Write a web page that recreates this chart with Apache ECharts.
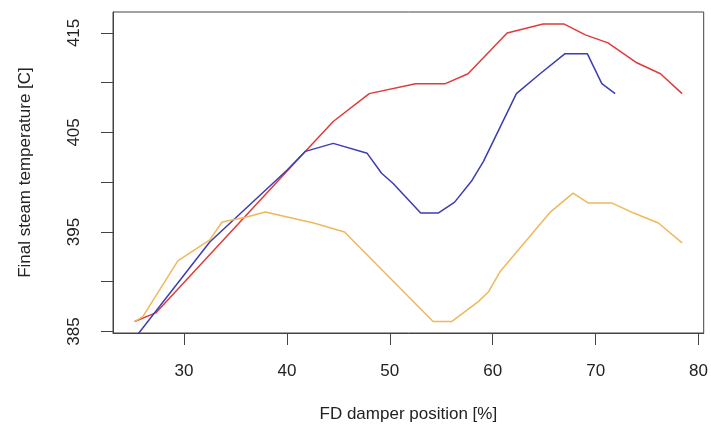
<!DOCTYPE html>
<html>
<head>
<meta charset="utf-8">
<script src="https://cdn.jsdelivr.net/npm/echarts@6/dist/echarts.min.js"></script>
<style>
    html, body { margin: 0; padding: 0; background: #fff; }
    #chart { width: 711px; height: 438px; }
</style>
</head>
<body>
<div id="chart"></div>
<script>
// ===== 数据 (从图上读的) =====
const redX = [25.2, 27.3, 41.8, 44.5, 48.0, 52.5, 55.4, 57.6, 61.4, 64.9, 66.9, 69.0, 71.2, 74.0, 76.3, 78.4];
const redY = [386.0, 386.9, 403.1, 406.1, 408.9, 409.9, 409.9, 410.9, 415.0, 415.9, 415.9, 414.8, 414.0, 412.0, 410.9, 408.9];

const blueX = [25.5, 32.5, 40.0, 41.8, 44.5, 47.8, 49.2, 50.3, 53.0, 54.7, 56.3, 58.0, 59.1, 62.3, 64.6, 67.0, 69.2, 70.6, 71.9];
const blueY = [384.7, 394.0, 401.2, 403.1, 403.9, 402.9, 400.9, 399.9, 396.9, 396.9, 398.0, 400.2, 402.1, 408.9, 410.9, 412.9, 412.9, 409.9, 408.9];

const orangeX = [25.2, 26.0, 29.4, 32.5, 33.7, 36.1, 37.9, 42.6, 45.6, 54.2, 56.0, 58.6, 59.6, 60.7, 65.6, 67.8, 69.3, 71.6, 73.7, 76.1, 78.4];
const orangeY = [386.0, 386.5, 392.1, 394.2, 396.0, 396.5, 397.0, 395.9, 395.0, 386.0, 386.0, 388.0, 389.0, 391.0, 397.0, 398.9, 397.9, 397.9, 396.9, 395.9, 393.9];

const xTicks = [30, 40, 50, 60, 70, 80];
const yTicks = [385, 390, 395, 400, 405, 410, 415];
const yLabels = [385, 395, 405, 415];

const zip = (xs, ys) => xs.map((x, i) => [x, ys[i]]);

const FONT = "Liberation Sans";
const chart = echarts.init(document.getElementById("chart"));

function lineSeries(name, data, color) {
    return {
        name,
        type: "line",
        data,
        symbol: "none",
        lineStyle: { color, width: 1.5 },
        silent: true,
        animation: false
    };
}

chart.setOption({
    animation: false,
    grid: {
        left: 113, right: 7, top: 12, bottom: 105,
        show: true, borderColor: "#444", borderWidth: 1, backgroundColor: "transparent"
    },
    xAxis: {
        type: "value",
        min: 23.1, max: 80.5,
        name: "FD damper position [%]",
        nameLocation: "middle",
        nameGap: 73,
        nameTextStyle: { fontFamily: FONT, fontSize: 17, color: "#222" },
        axisLine: { show: true, onZero: false, lineStyle: { color: "#444" } },
        axisTick: { show: true, length: 12, customValues: xTicks, lineStyle: { color: "#444" } },
        axisLabel: { customValues: xTicks, margin: 30, fontFamily: FONT, fontSize: 17, color: "#222" },
        splitLine: { show: false }
    },
    yAxis: {
        type: "value",
        min: 384.85, max: 417.1,
        name: "Final steam temperature [C]",
        nameLocation: "middle",
        nameGap: 79,
        nameRotate: 90,
        nameTextStyle: { fontFamily: FONT, fontSize: 17, color: "#222" },
        axisLine: { show: true, onZero: false, lineStyle: { color: "#444" } },
        axisTick: { show: true, length: 12, customValues: yTicks, lineStyle: { color: "#444" } },
        axisLabel: { customValues: yLabels, rotate: 90, margin: 30, fontFamily: FONT, fontSize: 17, color: "#222" },
        splitLine: { show: false }
    },
    series: [
        lineSeries("red", zip(redX, redY), "#e03a3a"),
        lineSeries("blue", zip(blueX, blueY), "#3c3cb4"),
        lineSeries("orange", zip(orangeX, orangeY), "#efb85a")
    ]
});
</script>
</body>
</html>
